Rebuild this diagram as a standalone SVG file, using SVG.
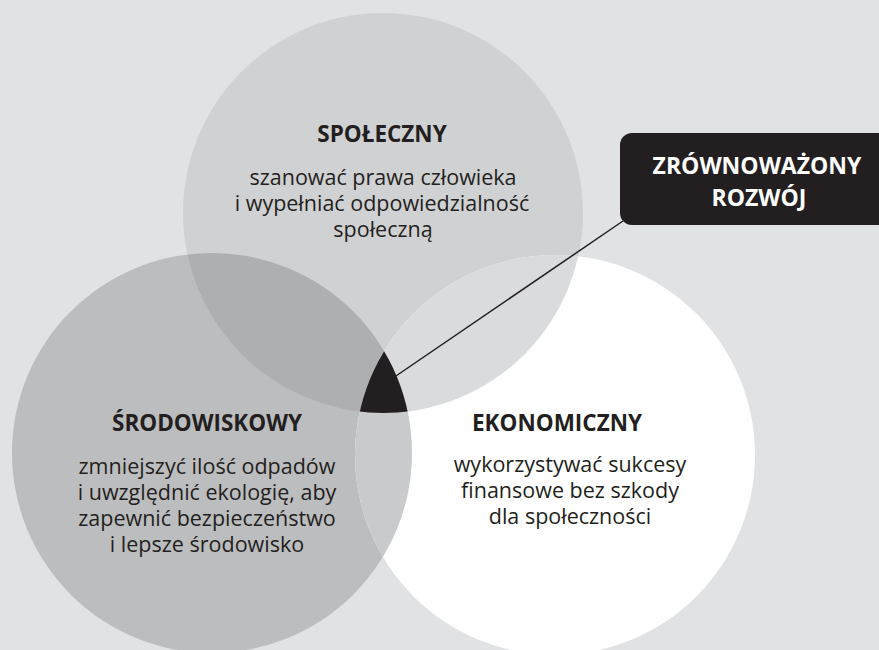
<svg xmlns="http://www.w3.org/2000/svg" width="879" height="650" viewBox="0 0 879 650">
  <style>
    .title { font-family: "Open Sans", "Liberation Sans", sans-serif; font-weight: 700; font-size: 22.5px; fill: #231f20; text-anchor: middle; }
    .body { font-family: "Open Sans", "Liberation Sans", sans-serif; font-size: 21.5px; fill: #231f20; text-anchor: middle; }
    .label { font-family: "Open Sans", "Liberation Sans", sans-serif; font-weight: 700; font-size: 23px; fill: #ffffff; text-anchor: middle; }
  </style>
  <defs>
    <clipPath id="clipTop"><circle cx="383" cy="213" r="200"/></clipPath>
    <clipPath id="clipLeft"><circle cx="212" cy="453" r="200"/></clipPath>
    <clipPath id="clipRight"><circle cx="555" cy="455" r="200"/></clipPath>
  </defs>

  <!-- background -->
  <rect x="0" y="0" width="879" height="650" fill="#e1e2e4"/>

  <!-- base circles -->
  <g id="environmental">
    <circle cx="212" cy="453" r="200" fill="#bcbdbf"/>
  </g>
  <g id="social">
    <circle cx="383" cy="213" r="200" fill="#d0d1d3"/>
  </g>
  <g id="economic">
    <circle cx="555" cy="455" r="200" fill="#ffffff"/>
  </g>

  <!-- overlaps -->
  <g id="overlaps">
    <g clip-path="url(#clipLeft)"><circle cx="383" cy="213" r="200" fill="#aeafb1"/></g>
    <g clip-path="url(#clipRight)"><circle cx="383" cy="213" r="200" fill="#dadbdd"/></g>
    <g clip-path="url(#clipRight)"><circle cx="212" cy="453" r="200" fill="#c9cacc"/></g>
    <g clip-path="url(#clipLeft)"><g clip-path="url(#clipRight)"><circle id="core" cx="383" cy="213" r="200" fill="#231f20"/></g></g>
  </g>

  <!-- connector -->
  <g id="connectors">
    <line x1="393" y1="378" x2="623" y2="221" stroke="#231f20" stroke-width="1.5"/>
  </g>

  <!-- texts -->
  <g id="social-text">
    <text class="title" x="382" y="142">SPOŁECZNY</text>
    <text class="body" x="383" y="185">szanować prawa człowieka</text>
    <text class="body" x="382" y="211">i wypełniać odpowiedzialność</text>
    <text class="body" x="383" y="237">społeczną</text>
  </g>
  <g id="environmental-text">
    <text class="title" x="207" y="431">ŚRODOWISKOWY</text>
    <text class="body" x="207" y="474">zmniejszyć ilość odpadów</text>
    <text class="body" x="207" y="500">i uwzględnić ekologię, aby</text>
    <text class="body" x="207" y="526">zapewnić bezpieczeństwo</text>
    <text class="body" x="207" y="552">i lepsze środowisko</text>
  </g>
  <g id="economic-text">
    <text class="title" x="557" y="431">EKONOMICZNY</text>
    <text class="body" x="570" y="472">wykorzystywać sukcesy</text>
    <text class="body" x="570" y="498">finansowe bez szkody</text>
    <text class="body" x="570" y="524">dla społeczności</text>
  </g>

  <!-- label box -->
  <g id="sustainable">
    <rect x="620" y="133" width="280" height="92" rx="12" ry="12" fill="#231f20"/>
    <text class="label" x="757" y="174">ZRÓWNOWAŻONY</text>
    <text class="label" x="759" y="206">ROZWÓJ</text>
  </g>
</svg>
